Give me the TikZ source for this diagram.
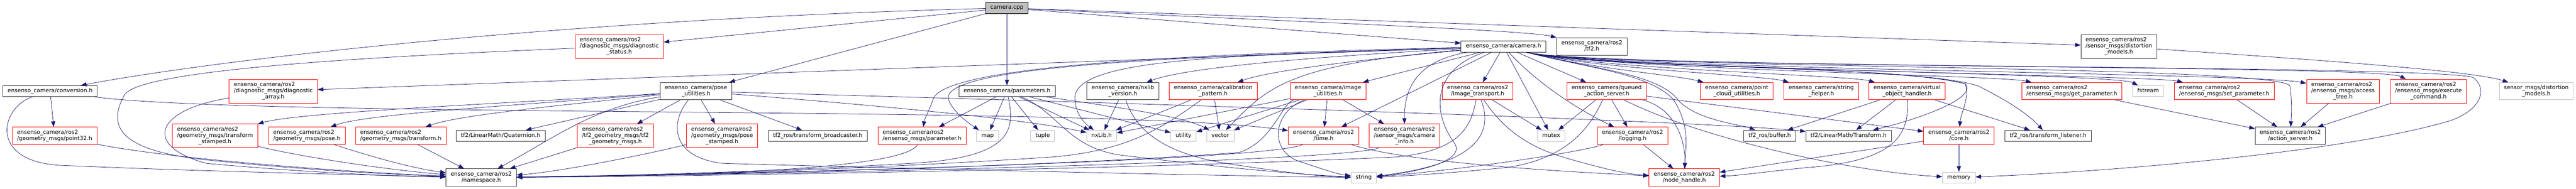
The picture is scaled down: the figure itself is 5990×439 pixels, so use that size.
\documentclass[tikz,border=0pt]{standalone}
\usepackage{fontspec}
\setmainfont{DejaVu Sans}
\usetikzlibrary{arrows.meta}
\definecolor{edgeblue}{HTML}{191970}
\definecolor{sysgrey}{HTML}{BFBFBF}
\newcommand{\twoline}[2]{\begin{tabular}{@{}l@{}}#1\\\multicolumn{1}{@{}c@{}}{#2}\end{tabular}}
\newcommand{\threeline}[3]{\begin{tabular}{@{}l@{}}#1\\#2\\\multicolumn{1}{@{}c@{}}{#3}\end{tabular}}
\tikzset{
  file/.style={rectangle, draw, fill=white, line width=0.9pt, inner xsep=11pt, inner ysep=5.75pt, font=\fontsize{13}{14.5}\selectfont},
  doc/.style={file, draw=black!80},
  trunc/.style={file, draw=red},
  sys/.style={file, draw=sysgrey},
  root/.style={file, draw=black, fill=sysgrey},
  dep/.style={draw=edgeblue, line width=0.9pt, -{Triangle[length=13pt,width=9.5pt]}}
}
\begin{document}
\begin{tikzpicture}[x=1pt, y=-1pt]
        \useasboundingbox (0,0) rectangle (5990,439);
        \node[root] (cpp) at (2341.5,18.5) {\strut camera.cpp};
        \node[trunc] (diagstatus) at (1440,108) {\threeline{ensenso\_camera/ros2}{/diagnostic\_msgs/diagnostic}{\_status.h}};
        \node[doc] (camh) at (3496,108) {\strut ensenso\_camera/camera.h};
        \node[doc] (tftwo) at (3701.5,108) {\twoline{ensenso\_camera/ros2}{/tf2.h}};
        \node[doc] (distros) at (4927,108) {\threeline{ensenso\_camera/ros2}{/sensor\_msgs/distortion}{\_models.h}};
        \node[doc] (conversion) at (116.5,212) {\strut ensenso\_camera/conversion.h};
        \node[trunc] (diagarr) at (635.5,212) {\threeline{ensenso\_camera/ros2}{/diagnostic\_msgs/diagnostic}{\_array.h}};
        \node[doc] (poseutil) at (1618.5,212) {\twoline{ensenso\_camera/pose}{\_utilities.h}};
        \node[doc] (params) at (2341.5,212) {\strut ensenso\_camera/parameters.h};
        \node[doc] (nxver) at (2611,212) {\twoline{ensenso\_camera/nxlib}{\_version.h}};
        \node[trunc] (calib) at (2821,212) {\twoline{ensenso\_camera/calibration}{\_pattern.h}};
        \node[trunc] (imgutil) at (3088,212) {\twoline{ensenso\_camera/image}{\_utilities.h}};
        \node[trunc] (imgtrans) at (3436,212) {\twoline{ensenso\_camera/ros2}{/image\_transport.h}};
        \node[trunc] (queued) at (3736,212) {\twoline{ensenso\_camera/queued}{\_action\_server.h}};
        \node[trunc] (pcl) at (4038.5,212) {\twoline{ensenso\_camera/point}{\_cloud\_utilities.h}};
        \node[trunc] (strhelp) at (4235,212) {\twoline{ensenso\_camera/string}{\_helper.h}};
        \node[trunc] (voh) at (4434.5,212) {\twoline{ensenso\_camera/virtual}{\_object\_handler.h}};
        \node[trunc] (getparam) at (4817.5,212) {\twoline{ensenso\_camera/ros2}{/ensenso\_msgs/get\_parameter.h}};
        \node[sys] (fstream) at (4995,212) {\strut fstream};
        \node[trunc] (setparam) at (5172,212) {\twoline{ensenso\_camera/ros2}{/ensenso\_msgs/set\_parameter.h}};
        \node[trunc] (acctree) at (5448,212) {\threeline{ensenso\_camera/ros2}{/ensenso\_msgs/access}{\_tree.h}};
        \node[trunc] (execcmd) at (5647,212) {\threeline{ensenso\_camera/ros2}{/ensenso\_msgs/execute}{\_command.h}};
        \node[sys] (sensdist) at (5897.5,212) {\twoline{sensor\_msgs/distortion}{\_models.h}};
        \node[trunc] (point32) at (127,316) {\twoline{ensenso\_camera/ros2}{/geometry\_msgs/point32.h}};
        \node[trunc] (tfstamped) at (500,316) {\threeline{ensenso\_camera/ros2}{/geometry\_msgs/transform}{\_stamped.h}};
        \node[trunc] (pose) at (713.5,316) {\twoline{ensenso\_camera/ros2}{/geometry\_msgs/pose.h}};
        \node[trunc] (transform) at (932,316) {\twoline{ensenso\_camera/ros2}{/geometry\_msgs/transform.h}};
        \node[doc] (quat) at (1164,316) {\strut tf2/LinearMath/Quaternion.h};
        \node[trunc] (tftwogeo) at (1431,316) {\threeline{ensenso\_camera/ros2}{/tf2\_geometry\_msgs/tf2}{\_geometry\_msgs.h}};
        \node[trunc] (posestamped) at (1679,316) {\threeline{ensenso\_camera/ros2}{/geometry\_msgs/pose}{\_stamped.h}};
        \node[doc] (tfbroad) at (1901.5,316) {\strut tf2\_ros/transform\_broadcaster.h};
        \node[trunc] (parammsg) at (2144,316) {\twoline{ensenso\_camera/ros2}{/ensenso\_msgs/parameter.h}};
        \node[sys] (map) at (2296.5,316) {\strut map};
        \node[sys] (tuple) at (2424.5,316) {\strut tuple};
        \node[sys] (nxlib) at (2561.5,316) {\strut nxLib.h};
        \node[sys] (utility) at (2752,316) {\strut utility};
        \node[sys] (vector) at (2837.5,316) {\strut vector};
        \node[trunc] (time) at (3077.5,316) {\twoline{ensenso\_camera/ros2}{/time.h}};
        \node[trunc] (caminfo) at (3266,316) {\threeline{ensenso\_camera/ros2}{/sensor\_msgs/camera}{\_info.h}};
        \node[sys] (mutex) at (3607,316) {\strut mutex};
        \node[trunc] (logging) at (3796,316) {\twoline{ensenso\_camera/ros2}{/logging.h}};
        \node[doc] (buffer) at (4115,316) {\strut tf2\_ros/buffer.h};
        \node[doc] (tftransform) at (4298.5,316) {\strut tf2/LinearMath/Transform.h};
        \node[trunc] (core) at (4555,316) {\twoline{ensenso\_camera/ros2}{/core.h}};
        \node[doc] (tflisten) at (4762.5,316) {\strut tf2\_ros/transform\_listener.h};
        \node[doc] (actserver) at (5325.5,316) {\twoline{ensenso\_camera/ros2}{/action\_server.h}};
        \node[doc] (nspace) at (1119,413) {\twoline{ensenso\_camera/ros2}{/namespace.h}};
        \node[sys] (string) at (3171,413) {\strut string};
        \node[trunc] (nodehandle) at (3916.5,413) {\twoline{ensenso\_camera/ros2}{/node\_handle.h}};
        \node[sys] (memory) at (4555,413) {\strut memory};
        % camera.cpp
        \draw[dep] (cpp) .. controls (1300,45) and (500,140) .. (conversion);
        \draw[dep] (cpp) -- (diagstatus);
        \draw[dep] (cpp) -- (poseutil);
        \draw[dep] (cpp) -- (params);
        \draw[dep] (cpp) -- (camh);
        \draw[dep] (cpp) .. controls (3000,50) and (3550,70) .. (tftwo);
        \draw[dep] (cpp) -- (distros);
        % camera.h
        \draw[dep] (camh) -- (diagarr);
        \draw[dep] (camh) .. controls (2900,130) and (2480,130) .. (2500,235) .. controls (2502,265) and (2520,285) .. (nxlib);
        \draw[dep] (camh) .. controls (2800,125) and (2200,150) .. (2170,230) .. controls (2160,260) and (2150,275) .. (parammsg);
        \draw[dep] (camh) .. controls (2800,130) and (2190,150) .. (2205,230) .. controls (2215,260) and (2250,285) .. (map);
        \draw[dep] (camh) .. controls (3000,135) and (2750,160) .. (nxver);
        \draw[dep] (camh) .. controls (3150,140) and (2950,165) .. (calib);
        \draw[dep] (camh) -- (imgutil);
        \draw[dep] (camh) .. controls (3000,150) and (2950,200) .. (vector);
        \draw[dep] (camh) -- (time);
        \draw[dep] (camh) .. controls (3300,140) and (3265,200) .. (caminfo);
        \draw[dep] (camh) .. controls (3330,160) and (3330,260) .. (3380,330) .. controls (3420,380) and (3260,405) .. (string);
        \draw[dep] (camh) -- (imgtrans);
        \draw[dep] (camh) -- (mutex);
        \draw[dep] (camh) .. controls (3580,200) and (3680,260) .. (logging);
        \draw[dep] (camh) -- (queued);
        \draw[dep] (camh) .. controls (3700,160) and (3830,170) .. (3890,230) .. controls (3930,290) and (3920,340) .. (nodehandle);
        \draw[dep] (camh) .. controls (3700,160) and (3850,170) .. (3900,230) .. controls (3940,280) and (4050,290) .. (buffer);
        \draw[dep] (camh) .. controls (3700,160) and (3900,175) .. (pcl);
        \draw[dep] (camh) .. controls (3700,160) and (4100,175) .. (strhelp);
        \draw[dep] (camh) .. controls (3700,160) and (4300,175) .. (voh);
        \draw[dep] (camh) .. controls (3700,160) and (4400,150) .. (4570,195) .. controls (4600,230) and (4450,280) .. (tftransform);
        \draw[dep] (camh) .. controls (3700,160) and (4400,150) .. (4570,195) .. controls (4580,230) and (4560,260) .. (core);
        \draw[dep] (camh) .. controls (3700,160) and (4450,150) .. (4600,200) .. controls (4680,240) and (4720,270) .. (tflisten);
        \draw[dep] (camh) .. controls (3700,160) and (4650,175) .. (getparam);
        \draw[dep] (camh) .. controls (3700,160) and (4920,170) .. (fstream);
        \draw[dep] (camh) .. controls (3700,160) and (5000,175) .. (setparam);
        \draw[dep] (camh) .. controls (3700,160) and (5300,150) .. (5325,200) .. controls (5330,240) and (5328,270) .. (actserver);
        \draw[dep] (camh) .. controls (3700,160) and (5250,170) .. (acctree);
        \draw[dep] (camh) .. controls (3700,160) and (5530,150) .. (execcmd);
        \draw[dep] (camh) .. controls (3700,160) and (5650,150) .. (5750,180) .. controls (5780,200) and (5780,250) .. (5700,280) .. controls (5450,355) and (4900,400) .. (memory);
        % pose_utilities.h
        \draw[dep] (poseutil) .. controls (1200,240) and (700,260) .. (tfstamped);
        \draw[dep] (poseutil) .. controls (1200,245) and (850,265) .. (pose);
        \draw[dep] (poseutil) .. controls (1250,250) and (1060,270) .. (transform);
        \draw[dep] (poseutil) -- (quat);
        \draw[dep] (poseutil) -- (tftwogeo);
        \draw[dep] (poseutil) -- (posestamped);
        \draw[dep] (poseutil) -- (tfbroad);
        \draw[dep] (poseutil) .. controls (2100,250) and (2400,280) .. (nxlib);
        \draw[dep] (poseutil) .. controls (3000,250) and (4000,285) .. (tftransform);
        \draw[dep] (poseutil) .. controls (1560,280) and (1555,365) .. (1680,380) .. controls (2200,395) and (2900,410) .. (string);
        \draw[dep] (poseutil) .. controls (1380,250) and (1290,320) .. (nspace);
        % conversion.h and the message headers
        \draw[dep] (conversion) -- (point32);
        \draw[dep] (conversion) .. controls (0,250) and (-30,380) .. (150,385) .. controls (500,400) and (900,408) .. (nspace);
        \draw[dep] (conversion) .. controls (600,275) and (2600,245) .. (time);
        \draw[dep] (diagarr) .. controls (360,255) and (330,340) .. (480,380) .. controls (700,400) and (900,410) .. (nspace);
        \draw[dep] (diagstatus) .. controls (900,130) and (330,160) .. (290,220) .. controls (250,290) and (270,350) .. (480,372) .. controls (700,395) and (900,405) .. (nspace);
        \draw[dep] (point32) .. controls (400,370) and (800,400) .. (nspace);
        \draw[dep] (tfstamped) .. controls (700,365) and (900,395) .. (nspace);
        \draw[dep] (pose) .. controls (850,360) and (950,390) .. (nspace);
        \draw[dep] (transform) -- (nspace);
        \draw[dep] (tftwogeo) -- (nspace);
        \draw[dep] (posestamped) .. controls (1500,360) and (1300,400) .. (nspace);
        \draw[dep] (parammsg) .. controls (2100,400) and (1500,410) .. (nspace);
        % parameters.h
        \draw[dep] (params) -- (parammsg);
        \draw[dep] (params) -- (map);
        \draw[dep] (params) .. controls (2360,300) and (2355,360) .. (2150,378) .. controls (1800,400) and (1400,410) .. (nspace);
        \draw[dep] (params) -- (tuple);
        \draw[dep] (params) .. controls (2460,260) and (2480,340) .. (2600,360) .. controls (2800,385) and (3000,405) .. (string);
        \draw[dep] (params) -- (nxlib);
        \draw[dep] (params) -- (utility);
        \draw[dep] (params) .. controls (2600,250) and (2750,270) .. (vector);
        % nxlib_version.h, calibration_pattern.h, image_utilities.h
        \draw[dep] (nxver) -- (nxlib);
        \draw[dep] (nxver) .. controls (2640,300) and (2700,355) .. (2850,380) .. controls (2950,395) and (3050,410) .. (string);
        \draw[dep] (calib) -- (nxlib);
        \draw[dep] (calib) .. controls (2700,300) and (2620,350) .. (2450,365) .. controls (2000,395) and (1500,410) .. (nspace);
        \draw[dep] (calib) -- (vector);
        \draw[dep] (imgutil) -- (nxlib);
        \draw[dep] (imgutil) -- (utility);
        \draw[dep] (imgutil) -- (vector);
        \draw[dep] (imgutil) -- (time);
        \draw[dep] (imgutil) -- (caminfo);
        \draw[dep] (imgutil) .. controls (2960,260) and (2950,350) .. (3020,375) .. controls (3080,395) and (3110,405) .. (string);
        \draw[dep] (imgutil) .. controls (2980,240) and (2960,330) .. (2880,355) .. controls (2400,390) and (1600,408) .. (nspace);
        % image_transport.h, time.h, camera_info.h
        \draw[dep] (imgtrans) .. controls (3420,300) and (3390,350) .. (3250,365) .. controls (2600,395) and (1600,410) .. (nspace);
        \draw[dep] (imgtrans) .. controls (3470,300) and (3450,380) .. (string);
        \draw[dep] (imgtrans) .. controls (3490,290) and (3540,340) .. (3650,370) .. controls (3720,390) and (3780,405) .. (nodehandle);
        \draw[dep] (imgtrans) -- (mutex);
        \draw[dep] (time) .. controls (3280,380) and (3650,400) .. (nodehandle);
        \draw[dep] (time) .. controls (2950,370) and (2000,400) .. (nspace);
        \draw[dep] (caminfo) .. controls (3150,370) and (2200,400) .. (nspace);
        % queued_action_server.h, logging.h
        \draw[dep] (queued) -- (mutex);
        \draw[dep] (queued) -- (logging);
        \draw[dep] (queued) .. controls (3700,290) and (3650,370) .. (3500,390) .. controls (3350,405) and (3250,410) .. (string);
        \draw[dep] (queued) .. controls (3890,250) and (3920,320) .. (nodehandle);
        \draw[dep] (queued) -- (core);
        \draw[dep] (queued) .. controls (3950,320) and (4300,400) .. (memory);
        \draw[dep] (logging) -- (nodehandle);
        \draw[dep] (logging) .. controls (3650,360) and (3350,400) .. (string);
        % virtual_object_handler.h, core.h
        \draw[dep] (voh) -- (buffer);
        \draw[dep] (voh) -- (tftransform);
        \draw[dep] (voh) .. controls (4440,320) and (4400,375) .. (4200,390) .. controls (4100,400) and (4050,408) .. (nodehandle);
        \draw[dep] (voh) -- (tflisten);
        \draw[dep] (core) -- (memory);
        \draw[dep] (core) -- (nodehandle);
        % service headers
        \draw[dep] (getparam) -- (actserver);
        \draw[dep] (setparam) -- (actserver);
        \draw[dep] (acctree) -- (actserver);
        \draw[dep] (execcmd) -- (actserver);
        \draw[dep] (distros) .. controls (5400,140) and (5750,165) .. (sensdist);
    \end{tikzpicture}
\end{document}
